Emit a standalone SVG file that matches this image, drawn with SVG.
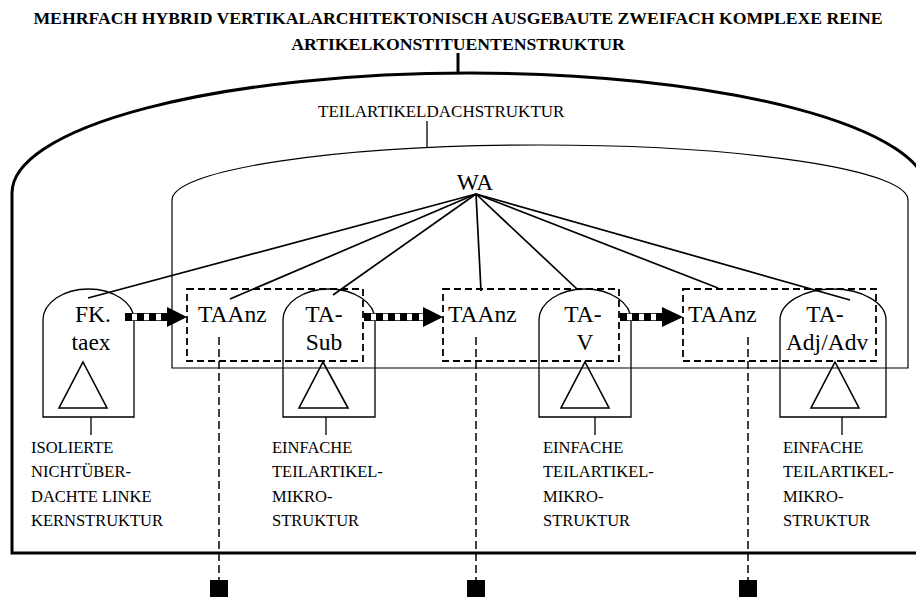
<svg xmlns="http://www.w3.org/2000/svg" width="916" height="598" viewBox="0 0 916 598">
<style>
text{font-family:"Liberation Serif","Times New Roman",serif;fill:#000}
.title{font-size:17.7px;font-weight:bold;text-anchor:middle}
.lab{font-size:16.5px}
.dach{font-size:17px}
.big{font-size:23.5px;text-anchor:middle}
.frame{fill:none;stroke:#000;stroke-width:3}
.inner{fill:none;stroke:#000;stroke-width:1.2}
.node{fill:none;stroke:#000;stroke-width:1.3}
.tri{fill:none;stroke:#000;stroke-width:1.6}
.box{fill:none;stroke:#000;stroke-width:1.8;stroke-dasharray:7 4}
.vdash{fill:none;stroke:#000;stroke-width:1.5;stroke-dasharray:8 4}
.wa{stroke:#000;stroke-width:1.7}
.thin{stroke:#000;stroke-width:1.3}
.b1{stroke:#000;stroke-width:8}
.b2{stroke:#fff;stroke-width:6.4}
.b3{stroke:#000;stroke-width:8;stroke-dasharray:7 5}
</style>
<g id="title">
<text class="title" x="458" y="24">MEHRFACH HYBRID VERTIKALARCHITEKTONISCH AUSGEBAUTE ZWEIFACH KOMPLEXE REINE</text>
<text class="title" x="458" y="50">ARTIKELKONSTITUENTENSTRUKTUR</text>
</g>
<g id="outer-frame">
<path class="frame" d="M12,553 V193 A458,120 0 0 1 928,193 V553 Z"/>
</g>
<g id="dach">
<path class="inner" d="M172,368 V200 A368,55 0 0 1 908,200 V368 Z"/>
<text class="dach" x="318" y="117">TEILARTIKELDACHSTRUKTUR</text>
</g>
<g id="wa"><text class="big" x="475" y="190">WA</text></g>
<g id="fk">
<path class="node" d="M43,417 V320 A45.5,31 0 0 1 134,320 V417 Z"/>
<polygon class="tri" points="83,362 107,408 59,408"/>
<text class="big" x="93" y="322">FK.</text>
<text class="big" x="91" y="350">taex</text>
<text class="lab" x="31" y="453">ISOLIERTE</text>
<text class="lab" x="31" y="477">NICHTÜBER-</text>
<text class="lab" x="31" y="502">DACHTE LINKE</text>
<text class="lab" x="31" y="526">KERNSTRUKTUR</text>
</g>
<g id="taanz1">
<rect class="box" x="187" y="289" width="176" height="72"/>
<text class="big" x="198" y="322" style="text-anchor:start">TAAnz</text>
<rect x="210" y="580" width="18" height="17" fill="#000"/>
</g>
<g id="tasub">
<path class="node" d="M283,417 V320 A46,31 0 0 1 375,320 V417 Z"/>
<polygon class="tri" points="323,362 348,408 299,408"/>
<text class="big" x="324" y="322">TA-</text>
<text class="big" x="324" y="350">Sub</text>
<text class="lab" x="272" y="453">EINFACHE</text>
<text class="lab" x="272" y="477">TEILARTIKEL-</text>
<text class="lab" x="272" y="502">MIKRO-</text>
<text class="lab" x="272" y="526">STRUKTUR</text>
</g>
<g id="taanz2">
<rect class="box" x="443" y="289" width="176" height="72"/>
<text class="big" x="448" y="322" style="text-anchor:start">TAAnz</text>
<rect x="467" y="580" width="18" height="17" fill="#000"/>
</g>
<g id="tav">
<path class="node" d="M539,417 V320 A46,31 0 0 1 631,320 V417 Z"/>
<polygon class="tri" points="585,362 609,408 561,408"/>
<text class="big" x="583" y="322">TA-</text>
<text class="big" x="585" y="350">V</text>
<text class="lab" x="543" y="453">EINFACHE</text>
<text class="lab" x="543" y="477">TEILARTIKEL-</text>
<text class="lab" x="543" y="502">MIKRO-</text>
<text class="lab" x="543" y="526">STRUKTUR</text>
</g>
<g id="taanz3">
<rect class="box" x="683" y="289" width="193" height="72"/>
<text class="big" x="688" y="322" style="text-anchor:start">TAAnz</text>
<rect x="739" y="580" width="18" height="17" fill="#000"/>
</g>
<g id="taadj">
<path class="node" d="M780,417 V320 A53,31 0 0 1 886,320 V417 Z"/>
<polygon class="tri" points="835,362 859,408 811,408"/>
<text class="big" x="825" y="322">TA-</text>
<text class="big" x="827" y="350">Adj/Adv</text>
<text class="lab" x="783" y="453">EINFACHE</text>
<text class="lab" x="783" y="477">TEILARTIKEL-</text>
<text class="lab" x="783" y="502">MIKRO-</text>
<text class="lab" x="783" y="526">STRUKTUR</text>
</g>
<g id="connectors">
<line class="frame" x1="458" y1="53" x2="458" y2="74"/>
<line class="thin" x1="427" y1="121" x2="427" y2="147"/>
<line class="wa" x1="476" y1="194" x2="88" y2="298"/>
<line class="wa" x1="476" y1="194" x2="230" y2="299"/>
<line class="wa" x1="476" y1="194" x2="333" y2="295"/>
<line class="wa" x1="476" y1="194" x2="481" y2="291"/>
<line class="wa" x1="476" y1="194" x2="577" y2="289"/>
<line class="wa" x1="476" y1="194" x2="718" y2="288"/>
<line class="wa" x1="476" y1="194" x2="850" y2="300"/>
<line class="thin" x1="91" y1="417" x2="91" y2="435"/>
<line class="thin" x1="326" y1="417" x2="326" y2="435"/>
<line class="thin" x1="595" y1="417" x2="595" y2="435"/>
<line class="thin" x1="842" y1="417" x2="842" y2="435"/>
<line class="vdash" x1="219" y1="337" x2="219" y2="580"/>
<line class="vdash" x1="476" y1="337" x2="476" y2="580"/>
<line class="vdash" x1="748" y1="337" x2="748" y2="580"/>
<g id="arrow1">
<line class="b1" x1="125" y1="317" x2="168" y2="317"/>
<line class="b2" x1="125" y1="317" x2="168" y2="317"/>
<line class="b3" x1="125" y1="317" x2="168" y2="317"/>
<polygon points="167,307 187,317 167,327" fill="#000"/>
</g>
<g id="arrow2">
<line class="b1" x1="364" y1="317" x2="424" y2="317"/>
<line class="b2" x1="364" y1="317" x2="424" y2="317"/>
<line class="b3" x1="364" y1="317" x2="424" y2="317"/>
<polygon points="423,307 443,317 423,327" fill="#000"/>
</g>
<g id="arrow3">
<line class="b1" x1="620" y1="317" x2="663" y2="317"/>
<line class="b2" x1="620" y1="317" x2="663" y2="317"/>
<line class="b3" x1="620" y1="317" x2="663" y2="317"/>
<polygon points="662,307 683,317 662,327" fill="#000"/>
</g>
</g>
</svg>
